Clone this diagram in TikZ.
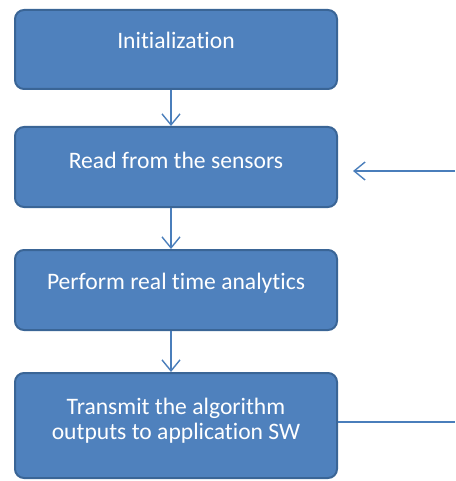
\documentclass[tikz,border=0pt]{standalone}
\usepackage{fontspec}
\setmainfont{Carlito}[Ligatures=CommonOff]
\usetikzlibrary{arrows.meta}
\definecolor{boxfill}{HTML}{4F81BD}
\definecolor{boxedge}{HTML}{3A6596}
\definecolor{linkcol}{HTML}{4A7EBB}
\tikzset{
  stepbox/.style={draw=boxedge, line width=2pt, fill=boxfill, rounded corners=9pt,
    minimum width=322pt, inner xsep=0pt, inner ysep=0pt, text=white, align=center,
    font=\fontsize{23.6}{24.5}\selectfont},
  link/.style={draw=linkcol, line width=1.4pt,
    -{Straight Barb[length=11pt,width=18pt,line width=1.4pt]}},
  plain/.style={draw=linkcol, line width=1.4pt}
}
\begin{document}
\begin{tikzpicture}[x=1pt,y=-1pt]
  \useasboundingbox (0,0) rectangle (455,481);
  \node[stepbox, text height=39pt, text depth=40pt] (b1) at (176,49.5) {Initialization};
  \node[stepbox, text height=41pt, text depth=39pt] (b2) at (176,167) {Read from the sensors};
  \node[stepbox, text height=39pt, text depth=41pt] (b3) at (176,290) {Perform real time analytics};
  \node[stepbox, text height=66pt, text depth=39pt] (b4) at (176,425.5) {Transmit the algorithm\\outputs to application SW};
  \coordinate (ax) at (171,0);
  \coordinate (in2) at (455,171);
  \coordinate (out4) at (455,422);
  \draw[link] (b1.south -| ax) -- (b2.north -| ax);
  \draw[link] (b2.south -| ax) -- (b3.north -| ax);
  \draw[link] (b3.south -| ax) -- (b4.north -| ax);
  \draw[link, shorten >=15pt] (in2) -- (b2.east |- in2);
  \draw[plain] (b4.east |- out4) -- (out4);
\end{tikzpicture}
\end{document}
